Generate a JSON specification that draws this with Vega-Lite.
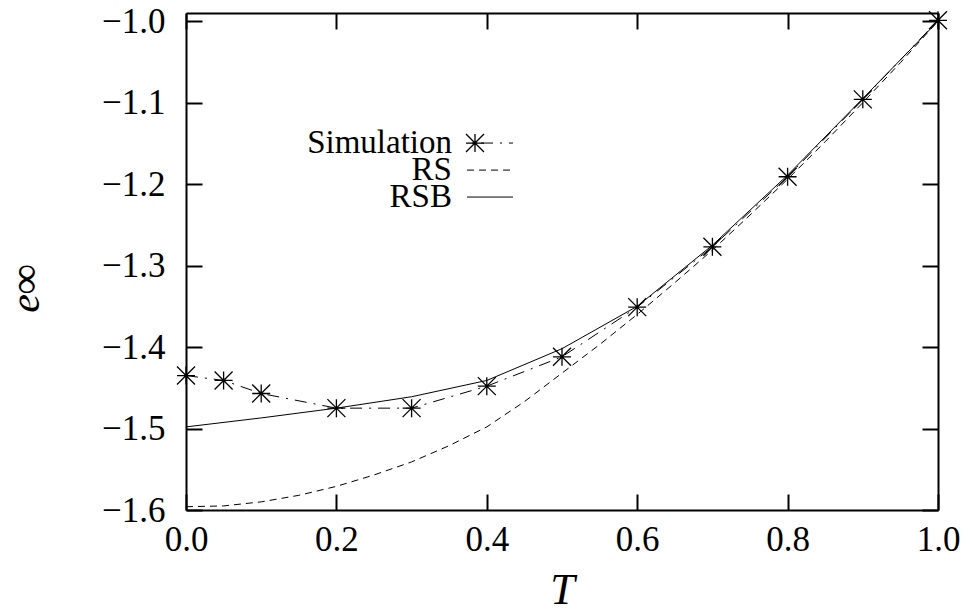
{
  "$schema": "https://vega.github.io/schema/vega-lite/v6.json",
  "width": 752,
  "height": 497,
  "autosize": "none",
  "padding": {"left": 186, "top": 13, "right": 29, "bottom": 102},
  "background": "white",
  "config": {
    "view": {"stroke": null},
    "font": "Liberation Serif",
    "axis": {
      "grid": false,
      "domainColor": "black",
      "domainWidth": 2,
      "tickColor": "black",
      "tickWidth": 2,
      "tickSize": -16,
      "labelColor": "black",
      "titleColor": "black",
      "labelFont": "Liberation Serif",
      "labelFontSize": 35,
      "labelFlush": false,
      "labelOverlap": false
    }
  },
  "datasets": {
    "sim": [
      {"x": 0.0, "y": -1.435},
      {"x": 0.05, "y": -1.441},
      {"x": 0.1, "y": -1.457},
      {"x": 0.2, "y": -1.475},
      {"x": 0.3, "y": -1.475},
      {"x": 0.4, "y": -1.448},
      {"x": 0.5, "y": -1.412},
      {"x": 0.6, "y": -1.351},
      {"x": 0.7, "y": -1.277},
      {"x": 0.8, "y": -1.191},
      {"x": 0.9, "y": -1.096},
      {"x": 1.0, "y": -0.999}
    ],
    "rs": [
      {"x": 0.0, "y": -1.596},
      {"x": 0.05, "y": -1.595},
      {"x": 0.1, "y": -1.590},
      {"x": 0.15, "y": -1.582},
      {"x": 0.2, "y": -1.571},
      {"x": 0.25, "y": -1.557},
      {"x": 0.3, "y": -1.541},
      {"x": 0.35, "y": -1.521},
      {"x": 0.4, "y": -1.498},
      {"x": 0.45, "y": -1.467},
      {"x": 0.5, "y": -1.432},
      {"x": 0.55, "y": -1.397},
      {"x": 0.6, "y": -1.360},
      {"x": 0.65, "y": -1.321},
      {"x": 0.7, "y": -1.281},
      {"x": 0.75, "y": -1.238},
      {"x": 0.8, "y": -1.194},
      {"x": 0.85, "y": -1.148},
      {"x": 0.9, "y": -1.100},
      {"x": 0.95, "y": -1.051},
      {"x": 1.0, "y": -1.0}
    ],
    "rsb": [
      {"x": 0.0, "y": -1.498},
      {"x": 0.1, "y": -1.487},
      {"x": 0.2, "y": -1.475},
      {"x": 0.3, "y": -1.461},
      {"x": 0.4, "y": -1.441},
      {"x": 0.5, "y": -1.402},
      {"x": 0.6, "y": -1.350},
      {"x": 0.7, "y": -1.275},
      {"x": 0.8, "y": -1.189},
      {"x": 0.9, "y": -1.095},
      {"x": 1.0, "y": -1.0}
    ],
    "legendText": [
      {"x": 0.3537, "y": -1.1496, "label": "Simulation"},
      {"x": 0.3537, "y": -1.1828, "label": "RS"},
      {"x": 0.3537, "y": -1.2159, "label": "RSB"}
    ],
    "legendLines": [
      {"series": "Simulation", "x": 0.3737, "y": -1.1496},
      {"series": "Simulation", "x": 0.4348, "y": -1.1496},
      {"series": "RS", "x": 0.3737, "y": -1.1828},
      {"series": "RS", "x": 0.4348, "y": -1.1828},
      {"series": "RSB", "x": 0.3737, "y": -1.2159},
      {"series": "RSB", "x": 0.4348, "y": -1.2159}
    ],
    "legendStar": [
      {"x": 0.3843, "y": -1.1496}
    ]
  },
  "resolve": {"axis": {"x": "independent", "y": "independent"}},
  "layer": [
    {
      "data": {"name": "rs"},
      "mark": {"type": "line", "color": "black", "strokeWidth": 1, "strokeDash": [7, 5]},
      "encoding": {
        "x": {
          "field": "x", "type": "quantitative",
          "scale": {"domain": [0, 1], "nice": false, "zero": false},
          "axis": {
            "orient": "bottom",
            "values": [0, 0.2, 0.4, 0.6, 0.8, 1.0],
            "format": ".1f",
            "labelPadding": 28,
            "title": "T",
            "titleFont": "Liberation Serif",
            "titleFontStyle": "italic",
            "titleFontWeight": "normal",
            "titleFontSize": 44,
            "titleBaseline": "alphabetic",
            "titleY": 93
          }
        },
        "y": {
          "field": "y", "type": "quantitative",
          "scale": {"domain": [-1.6, -0.99], "nice": false, "zero": false},
          "axis": {
            "orient": "left",
            "values": [-1.6, -1.5, -1.4, -1.3, -1.2, -1.1, -1.0],
            "format": ".1f",
            "labelPadding": 37,
            "title": "e∞",
            "titleFont": "Liberation Serif",
            "titleFontStyle": "italic",
            "titleFontWeight": "normal",
            "titleFontSize": 42,
            "titleBaseline": "alphabetic",
            "titleAlign": "center",
            "titleX": -148,
            "titleY": 275
          }
        }
      }
    },
    {
      "data": {"name": "rsb"},
      "mark": {"type": "line", "color": "black", "strokeWidth": 1},
      "encoding": {
        "x": {
          "field": "x", "type": "quantitative",
          "scale": {"domain": [0, 1], "nice": false, "zero": false},
          "axis": {"orient": "top", "values": [0, 0.2, 0.4, 0.6, 0.8, 1.0], "labels": false, "title": null}
        },
        "y": {
          "field": "y", "type": "quantitative",
          "scale": {"domain": [-1.6, -0.99], "nice": false, "zero": false},
          "axis": {"orient": "right", "values": [-1.6, -1.5, -1.4, -1.3, -1.2, -1.1, -1.0], "labels": false, "title": null}
        }
      }
    },
    {
      "data": {"name": "sim"},
      "mark": {"type": "line", "color": "black", "strokeWidth": 1, "strokeDash": [12, 7, 2, 7]},
      "encoding": {
        "x": {"field": "x", "type": "quantitative", "scale": {"domain": [0, 1], "nice": false, "zero": false}, "axis": null},
        "y": {"field": "y", "type": "quantitative", "scale": {"domain": [-1.6, -0.99], "nice": false, "zero": false}, "axis": null}
      }
    },
    {
      "data": {"name": "sim"},
      "mark": {"type": "point", "shape": "M-1,0L1,0M0,-1L0,1M-1,-1L1,1M-1,1L1,-1", "filled": false, "stroke": "black", "strokeWidth": 1.3, "size": 324, "opacity": 1},
      "encoding": {
        "x": {"field": "x", "type": "quantitative", "scale": {"domain": [0, 1], "nice": false, "zero": false}, "axis": null},
        "y": {"field": "y", "type": "quantitative", "scale": {"domain": [-1.6, -0.99], "nice": false, "zero": false}, "axis": null}
      }
    },
    {
      "data": {"name": "legendText"},
      "mark": {"type": "text", "align": "right", "baseline": "middle", "font": "Liberation Serif", "fontSize": 33, "color": "black"},
      "encoding": {
        "x": {"field": "x", "type": "quantitative", "scale": {"domain": [0, 1], "nice": false, "zero": false}, "axis": null},
        "y": {"field": "y", "type": "quantitative", "scale": {"domain": [-1.6, -0.99], "nice": false, "zero": false}, "axis": null},
        "text": {"field": "label"}
      }
    },
    {
      "data": {"name": "legendLines"},
      "transform": [{"filter": "datum.series === 'Simulation'"}],
      "mark": {"type": "line", "color": "black", "strokeWidth": 1, "strokeDash": [12, 7, 2, 7], "strokeDashOffset": -14},
      "encoding": {
        "x": {"field": "x", "type": "quantitative", "scale": {"domain": [0, 1], "nice": false, "zero": false}, "axis": null},
        "y": {"field": "y", "type": "quantitative", "scale": {"domain": [-1.6, -0.99], "nice": false, "zero": false}, "axis": null}
      }
    },
    {
      "data": {"name": "legendLines"},
      "transform": [{"filter": "datum.series === 'RS'"}],
      "mark": {"type": "line", "color": "black", "strokeWidth": 1, "strokeDash": [7, 5]},
      "encoding": {
        "x": {"field": "x", "type": "quantitative", "scale": {"domain": [0, 1], "nice": false, "zero": false}, "axis": null},
        "y": {"field": "y", "type": "quantitative", "scale": {"domain": [-1.6, -0.99], "nice": false, "zero": false}, "axis": null}
      }
    },
    {
      "data": {"name": "legendLines"},
      "transform": [{"filter": "datum.series === 'RSB'"}],
      "mark": {"type": "line", "color": "black", "strokeWidth": 1},
      "encoding": {
        "x": {"field": "x", "type": "quantitative", "scale": {"domain": [0, 1], "nice": false, "zero": false}, "axis": null},
        "y": {"field": "y", "type": "quantitative", "scale": {"domain": [-1.6, -0.99], "nice": false, "zero": false}, "axis": null}
      }
    },
    {
      "data": {"name": "legendStar"},
      "mark": {"type": "point", "shape": "M-1,0L1,0M0,-1L0,1M-1,-1L1,1M-1,1L1,-1", "filled": false, "stroke": "black", "strokeWidth": 1.3, "size": 324, "opacity": 1},
      "encoding": {
        "x": {"field": "x", "type": "quantitative", "scale": {"domain": [0, 1], "nice": false, "zero": false}, "axis": null},
        "y": {"field": "y", "type": "quantitative", "scale": {"domain": [-1.6, -0.99], "nice": false, "zero": false}, "axis": null}
      }
    }
  ]
}
